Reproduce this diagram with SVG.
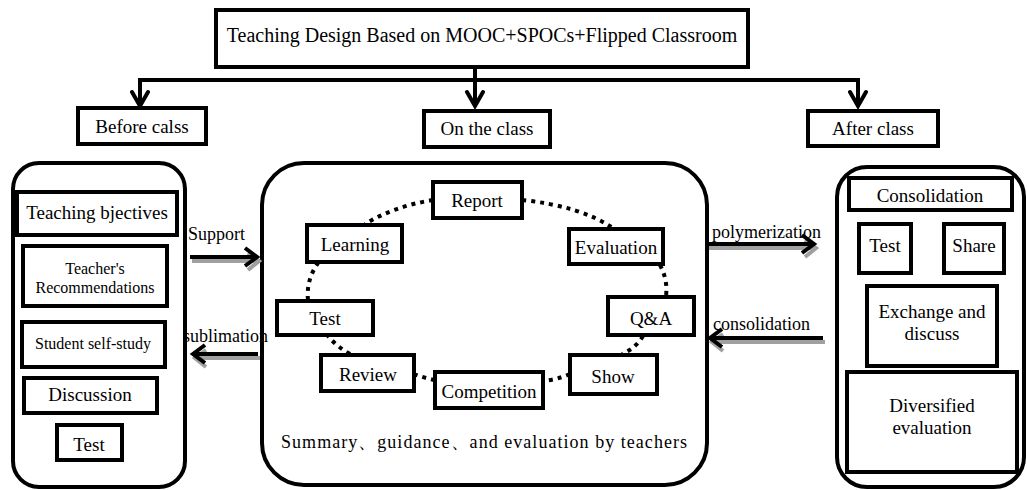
<svg xmlns="http://www.w3.org/2000/svg" width="1027" height="490" viewBox="0 0 1027 490">
  <style>
    .box { fill: #fff; stroke: #000; stroke-width: 4; }
    .panel { fill: none; stroke: #000; stroke-width: 4; }
    .t { fill: #000; text-anchor: middle; }
    .lbl { fill: #000; }
    .tree { fill: none; stroke: #000; stroke-width: 4; }
    .head { fill: none; stroke: #000; stroke-width: 4; stroke-linecap: round; stroke-linejoin: miter; }
    .flow { fill: none; stroke: #000; stroke-width: 4; }
    .shadow { fill: none; stroke: #a0a0a0; stroke-width: 4; }
    .dots { fill: none; stroke: #000; stroke-width: 4; stroke-dasharray: 4 5; }
  </style>

  <rect width="1027" height="490" fill="#fff"/>

  <!-- outer panels for the three phases -->
  <g id="before-panel">
    <rect class="panel" x="13" y="163" width="172" height="324" rx="26"/>
  </g>
  <g id="class-panel">
    <rect class="panel" x="262" y="163" width="445" height="322" rx="42"/>
  </g>
  <g id="after-panel">
    <rect class="panel" x="837" y="167" width="187" height="320" rx="30"/>
  </g>

  <!-- tree connectors from the title to the three phases -->
  <g id="connectors">
    <path class="tree" d="M475 67 V80 M138 80 H860 M140 80 V105 M475 80 V105 M858 80 V105"/>
    <path class="head" d="M132 92 L140 106 L148 92 M467 92 L475 106 L483 92 M850 92 L858 106 L866 92"/>

    <!-- side arrows with grey drop shadow -->
    <g id="arrow-support">
      <path class="shadow" d="M192 261 H258 M248 253 L259 261 L248 270"/>
      <path class="flow" d="M190 257 H256 M245 248 L257 257 L245 266"/>
    </g>
    <g id="arrow-sublimation">
      <path class="shadow" d="M260 358 H196 M206 350 L195 358 L206 367"/>
      <path class="flow" d="M258 354 H195 M205 345 L193 354 L205 363"/>
    </g>
    <g id="arrow-polymerization">
      <path class="shadow" d="M709 248 H815 M805 240 L816 248 L805 257"/>
      <path class="flow" d="M707 244 H813 M802 235 L814 244 L802 253"/>
    </g>
    <g id="arrow-consolidation">
      <path class="shadow" d="M825 342 H713 M723 334 L712 342 L723 351"/>
      <path class="flow" d="M823 338 H712 M722 329 L710 338 L722 347"/>
    </g>

    <!-- dotted cycle inside the class panel -->
    <g id="cycle">
      <path class="dots" d="M433 200 Q395 206 365 224"/>
      <path class="dots" d="M522 200 Q580 206 613 228"/>
      <path class="dots" d="M660 265 Q668 280 666 296"/>
      <path class="dots" d="M643 336 Q636 348 622 354"/>
      <path class="dots" d="M570 374 Q556 380 543 381"/>
      <path class="dots" d="M435 380 Q424 378 414 374"/>
      <path class="dots" d="M350 354 Q336 346 328 336"/>
      <path class="dots" d="M308 300 Q306 280 318 263"/>
    </g>
  </g>

  <g font-family="Liberation Serif, Tinos, Noto Serif, DejaVu Serif, FreeSerif, Times, serif">
    <!-- title -->
    <g id="title">
      <rect class="box" x="216" y="10" width="532" height="57"/>
      <text class="t" x="482" y="42" font-size="20">Teaching Design Based on MOOC+SPOCs+Flipped Classroom</text>
    </g>

    <!-- phase headers -->
    <g id="before-class">
      <rect class="box" x="78" y="108" width="128" height="36"/>
      <text class="t" x="142" y="133" font-size="19">Before calss</text>
    </g>
    <g id="on-class">
      <rect class="box" x="424" y="111" width="126" height="36"/>
      <text class="t" x="487" y="135" font-size="19">On the class</text>
    </g>
    <g id="after-class">
      <rect class="box" x="808" y="111" width="130" height="35"/>
      <text class="t" x="873" y="135" font-size="19">After class</text>
    </g>

    <!-- before-class items -->
    <g id="teaching-objectives">
      <rect class="box" x="17" y="192" width="160" height="43"/>
      <text class="t" x="97" y="219" font-size="19">Teaching bjectives</text>
    </g>
    <g id="teacher-recommendations">
      <rect class="box" x="23" y="246" width="144" height="60"/>
      <text class="t" x="95" y="274" font-size="16">Teacher's</text>
      <text class="t" x="95" y="293" font-size="16">Recommendations</text>
    </g>
    <g id="student-self-study">
      <rect class="box" x="22" y="322" width="143" height="45"/>
      <text class="t" x="93" y="349" font-size="16">Student self-study</text>
    </g>
    <g id="discussion">
      <rect class="box" x="24" y="378" width="133" height="35"/>
      <text class="t" x="90" y="401" font-size="19">Discussion</text>
    </g>
    <g id="before-test">
      <rect class="box" x="57" y="425" width="65" height="35"/>
      <text class="t" x="89" y="451" font-size="19">Test</text>
    </g>

    <!-- arrow labels -->
    <text class="lbl" x="188" y="240" font-size="18">Support</text>
    <text class="lbl" x="183" y="342" font-size="18">sublimation</text>
    <text class="lbl" x="712" y="238" font-size="18">polymerization</text>
    <text class="lbl" x="713" y="330" font-size="18">consolidation</text>

    <!-- in-class activities -->
    <g id="report">
      <rect class="box" x="433" y="182" width="89" height="36"/>
      <text class="t" x="477" y="207" font-size="19">Report</text>
    </g>
    <g id="learning">
      <rect class="box" x="307" y="225" width="95" height="37"/>
      <text class="t" x="355" y="251" font-size="19">Learning</text>
    </g>
    <g id="evaluation">
      <rect class="box" x="569" y="229" width="94" height="35"/>
      <text class="t" x="616" y="254" font-size="19">Evaluation</text>
    </g>
    <g id="class-test">
      <rect class="box" x="277" y="301" width="96" height="34"/>
      <text class="t" x="325" y="325" font-size="19">Test</text>
    </g>
    <g id="qa">
      <rect class="box" x="608" y="297" width="86" height="38"/>
      <text class="t" x="651" y="325" font-size="19">Q&amp;A</text>
    </g>
    <g id="review">
      <rect class="box" x="321" y="355" width="93" height="36"/>
      <text class="t" x="368" y="381" font-size="19">Review</text>
    </g>
    <g id="competition">
      <rect class="box" x="435" y="372" width="108" height="36"/>
      <text class="t" x="489" y="398" font-size="19">Competition</text>
    </g>
    <g id="show">
      <rect class="box" x="570" y="355" width="87" height="39"/>
      <text class="t" x="613" y="383" font-size="19">Show</text>
    </g>
    <text class="t" x="484" y="448" font-size="18" textLength="406" lengthAdjust="spacing">Summary、guidance、and evaluation by teachers</text>

    <!-- after-class items -->
    <g id="consolidation-box">
      <rect class="box" x="849" y="178" width="163" height="32"/>
      <text class="t" x="930" y="202" font-size="19">Consolidation</text>
    </g>
    <g id="after-test">
      <rect class="box" x="859" y="224" width="52" height="49"/>
      <text class="t" x="885" y="252" font-size="19">Test</text>
    </g>
    <g id="share">
      <rect class="box" x="944" y="224" width="60" height="49"/>
      <text class="t" x="974" y="252" font-size="19">Share</text>
    </g>
    <g id="exchange">
      <rect class="box" x="867" y="286" width="130" height="80"/>
      <text class="t" x="932" y="318" font-size="19">Exchange and</text>
      <text class="t" x="932" y="340" font-size="19">discuss</text>
    </g>
    <g id="diversified">
      <rect class="box" x="847" y="372" width="170" height="100"/>
      <text class="t" x="932" y="412" font-size="19">Diversified</text>
      <text class="t" x="932" y="434" font-size="19">evaluation</text>
    </g>
  </g>
</svg>
